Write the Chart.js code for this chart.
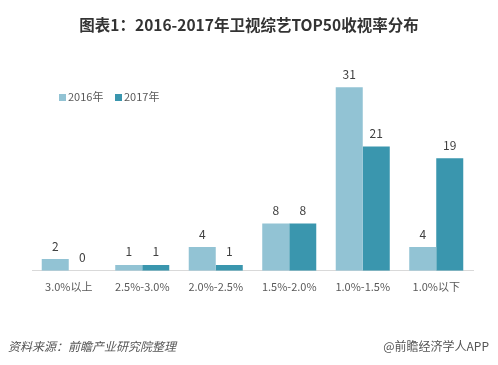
<!DOCTYPE html>
<html><head><meta charset="utf-8">
<script src="https://cdn.jsdelivr.net/npm/chart.js@4/dist/chart.umd.min.js"></script>
<style>
html,body{margin:0;padding:0;background:#fff;}
#wrap{position:relative;width:498px;height:365px;font-family:"Noto Sans CJK SC","Noto Sans",sans-serif;}
canvas{position:absolute;left:0;top:0;}
.t{position:absolute;white-space:nowrap;}
#title{left:0;width:498px;text-align:center;top:13px;font-size:15.5px;font-weight:bold;color:#333;}
.lg{top:88px;font-size:11px;color:#595959;}
.sq{display:inline-block;width:7px;height:7px;margin-right:2px;vertical-align:0px;}
#src{left:8px;top:337px;font-size:12px;font-style:italic;color:#555;}
#app{right:9px;top:337px;font-size:12px;color:#555;}
</style></head>
<body><div id="wrap">
<canvas id="c" width="498" height="365"></canvas>
<div id="title" class="t">图表1：2016-2017年卫视综艺TOP50收视率分布</div>
<div class="t lg" style="left:59px"><span class="sq" style="background:#92c3d4"></span>2016年</div>
<div class="t lg" style="left:115px"><span class="sq" style="background:#3a96ae"></span>2017年</div>
<div id="src" class="t">资料来源：前瞻产业研究院整理</div>
<div id="app" class="t">@前瞻经济学人APP</div>
</div>
<script>
const categories = ["3.0%以上","2.5%-3.0%","2.0%-2.5%","1.5%-2.0%","1.0%-1.5%","1.0%以下"];
const series2016 = [2,1,4,8,31,4];
const series2017 = [0,1,1,8,21,19];
const seriesNames = ["2016年","2017年"];

const labelPlugin = {
  id:'vals',
  afterDatasetsDraw(chart){
    const ctx = chart.ctx;
    ctx.save();
    ctx.font = '12px "Noto Sans CJK SC", sans-serif';
    ctx.fillStyle = '#404040';
    ctx.textAlign = 'center';
    ctx.textBaseline = 'middle';
    chart.data.datasets.forEach((ds,i)=>{
      chart.getDatasetMeta(i).data.forEach((bar,j)=>{
        ctx.fillText(String(ds.data[j]), bar.x, bar.y - 13);
      });
    });
    ctx.restore();
  }
};

new Chart(document.getElementById('c'), {
  type:'bar',
  data:{
    labels:categories,
    datasets:[
      {label:seriesNames[0], data:series2016, backgroundColor:'#92c3d4'},
      {label:seriesNames[1], data:series2017, backgroundColor:'#3a96ae'}
    ]
  },
  options:{
    responsive:false, animation:false,
    devicePixelRatio:1,
    layout:{padding:{left:32,right:25,top:63.5,bottom:63}},
    categoryPercentage:0.735, barPercentage:1,
    plugins:{legend:{display:false}, title:{display:false}, tooltip:{enabled:false}},
    scales:{
      x:{
        grid:{display:false, drawTicks:false},
        border:{display:true,color:'#d9d9d9',width:1},
        ticks:{padding:9,color:'#595959',font:{size:11,family:'"Noto Sans CJK SC", sans-serif'}}
      },
      y:{display:false,min:0,max:35}
    }
  },
  plugins:[labelPlugin]
});
</script>
</body></html>
